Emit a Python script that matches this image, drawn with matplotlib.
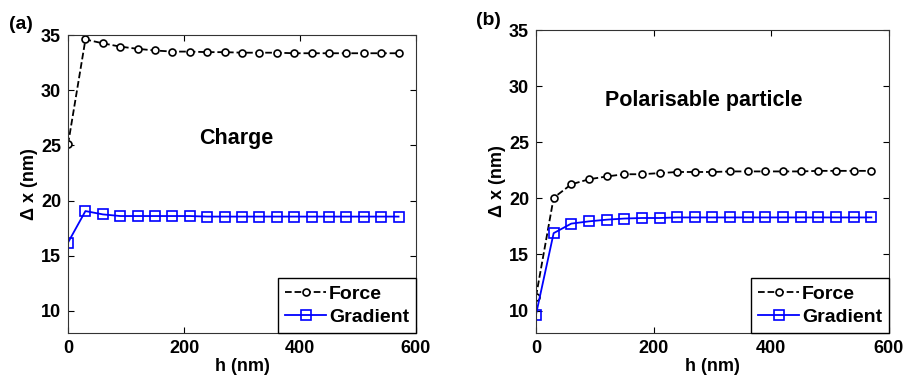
import numpy as np
import matplotlib
matplotlib.use("Agg")
import matplotlib.pyplot as plt

plt.rcParams['font.family'] = ['Liberation Sans', 'DejaVu Sans']
plt.rcParams['font.weight'] = 'bold'
plt.rcParams['font.size'] = 13

# separation h (nm)
h = [0, 30, 60, 90, 120, 150, 180, 210, 240, 270,
     300, 330, 360, 390, 420, 450, 480, 510, 540, 570]

# panel (a): charge
force_a = [25.1, 34.6, 34.25, 33.95, 33.75, 33.6, 33.5, 33.5, 33.45, 33.45,
           33.4, 33.4, 33.4, 33.35, 33.35, 33.35, 33.35, 33.35, 33.35, 33.35]
grad_a = [16.2, 19.05, 18.75, 18.6, 18.6, 18.6, 18.6, 18.6, 18.55, 18.55,
          18.55, 18.55, 18.55, 18.55, 18.55, 18.55, 18.55, 18.55, 18.55, 18.55]

# panel (b): polarisable particle
force_b = [11.25, 20.05, 21.25, 21.7, 21.95, 22.15, 22.15, 22.25, 22.35, 22.35,
           22.35, 22.4, 22.4, 22.4, 22.4, 22.4, 22.45, 22.45, 22.45, 22.45]
grad_b = [9.65, 16.9, 17.75, 17.95, 18.1, 18.2, 18.25, 18.25, 18.3, 18.3,
          18.3, 18.3, 18.3, 18.3, 18.3, 18.3, 18.3, 18.3, 18.3, 18.3]

fig = plt.figure(figsize=(9.06, 3.85), dpi=100)
ax1 = fig.add_axes([0.0751, 0.135, 0.384, 0.774])
ax2 = fig.add_axes([0.5916, 0.135, 0.3896, 0.787])

def style(ax, fy, gy, note, note_xy, tag, tag_xy):
    ax.plot(h, fy, '--', color='black', lw=1.3, marker='o', ms=5,
            mfc='white', mec='black', mew=1.2, label='Force')
    ax.plot(h, gy, '-', color='#0000ff', lw=1.3, marker='s', ms=7,
            mfc='none', mec='#0000ff', mew=1.2, label='Gradient')
    ax.set_xlim(0, 600)
    ax.set_ylim(8, 35)
    ax.set_xticks([0, 200, 400, 600])
    ax.set_yticks([10, 15, 20, 25, 30, 35])
    ax.tick_params(direction='in', top=True, right=True, length=4, width=0.8, pad=5)
    for s in ax.spines.values():
        s.set_linewidth(0.8)
        s.set_color('#333333')
    ax.set_xlabel('h (nm)', fontweight='bold', labelpad=1)
    ax.set_ylabel('\u0394 x (nm)', fontweight='bold', labelpad=2)
    ax.text(note_xy[0], note_xy[1], note, ha='center', va='center',
            fontsize=15.5, fontweight='bold')
    fig.text(tag_xy[0], tag_xy[1], tag, fontsize=14, fontweight='bold')
    leg = ax.legend(loc='lower right', borderaxespad=0, fancybox=False,
                    framealpha=1, edgecolor='black', handlelength=2.1,
                    handletextpad=0.15, borderpad=0.35, labelspacing=0.3,
                    prop={'weight': 'bold', 'size': 14})
    leg.get_frame().set_linewidth(1.0)

style(ax1, force_a, grad_a, 'Charge', (290, 25.6), '(a)', (0.01, 0.925))
style(ax2, force_b, grad_b, 'Polarisable particle', (285, 28.75), '(b)', (0.525, 0.935))

fig.savefig('out.png', dpi=100)
